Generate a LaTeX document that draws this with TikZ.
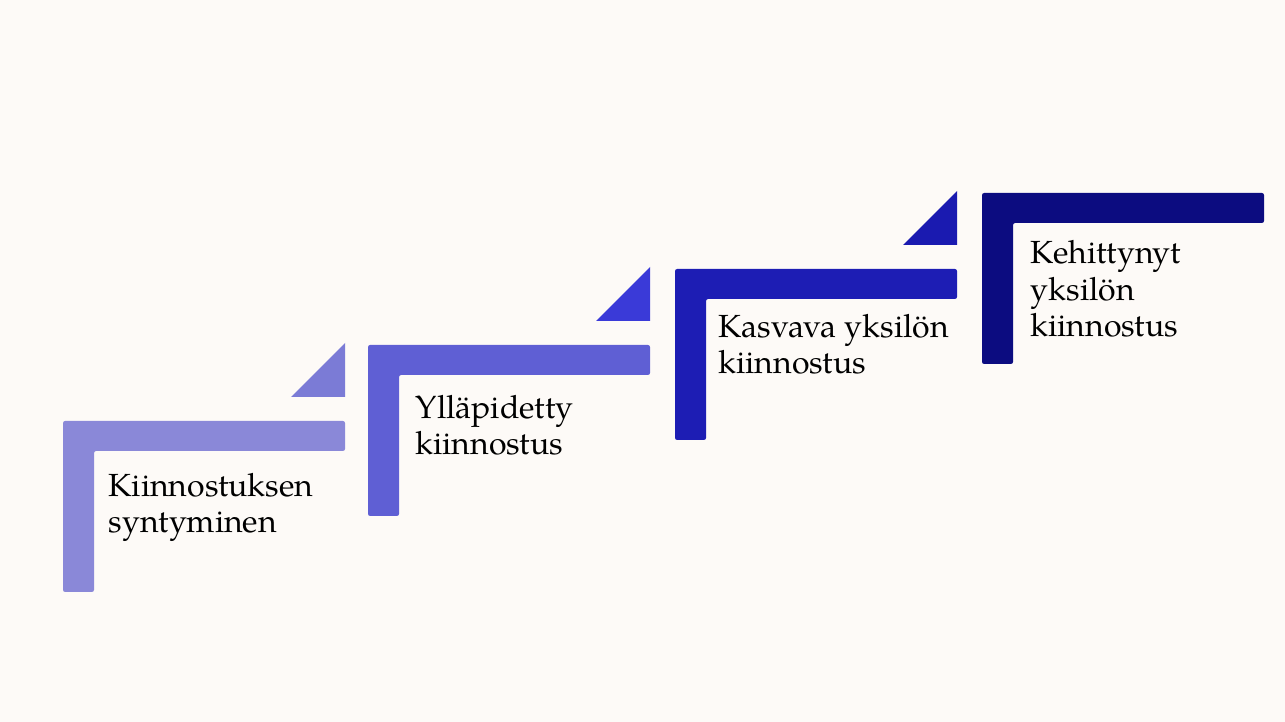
\documentclass[tikz,border=0pt]{standalone}
\usepackage{fontspec}
\setmainfont{TeX Gyre Pagella}
\definecolor{paper}{HTML}{FDFAF7}
\definecolor{stepA}{HTML}{8A88D8}
\definecolor{stepB}{HTML}{5F5FD4}
\definecolor{stepC}{HTML}{1D1DB4}
\definecolor{stepD}{HTML}{0C0C80}
\definecolor{triA}{HTML}{7B7BD6}
\definecolor{triB}{HTML}{3A3AD8}
\definecolor{triC}{HTML}{1A1AB0}
\tikzset{bar/.style={rounded corners=0.6pt},
  steptext/.style={anchor=base west,align=left,inner sep=0pt,
    font=\fontsize{9.1}{10.4}\selectfont}}

\begin{document}
\begin{tikzpicture}[x=0.01cm,y=-0.01cm]
\fill[paper] (0,0) rectangle (1285,722);
\useasboundingbox (0,0) rectangle (1285,722);
% step 1
\fill[stepA,bar] (63,421) -- ++(282,0) -- ++(0,30) -- ++(-251,0) -- ++(0,141) -- ++(-31,0) -- cycle;
\fill[triA] (345,397) -- (345,343) -- (291,397) -- cycle;
\node[steptext] (s1) at (108,533) {Kiinnostuksen\\syntyminen};
% step 2
\fill[stepB,bar] (368,345) -- ++(282,0) -- ++(0,30) -- ++(-251,0) -- ++(0,141) -- ++(-31,0) -- cycle;
\fill[triB] (650,321) -- (650,267) -- (596,321) -- cycle;
\node[steptext] (s2) at (415,455) {Ylläpidetty\\kiinnostus};
% step 3
\fill[stepC,bar] (675,269) -- ++(282,0) -- ++(0,30) -- ++(-251,0) -- ++(0,141) -- ++(-31,0) -- cycle;
\fill[triC] (957,245) -- (957,191) -- (903,245) -- cycle;
\node[steptext] (s3) at (718,374) {Kasvava yksilön\\kiinnostus};
% step 4
\fill[stepD,bar] (982,193) -- ++(282,0) -- ++(0,30) -- ++(-251,0) -- ++(0,141) -- ++(-31,0) -- cycle;
\node[steptext] (s4) at (1030,337) {Kehittynyt\\yksilön\\kiinnostus};
\end{tikzpicture}
\end{document}
